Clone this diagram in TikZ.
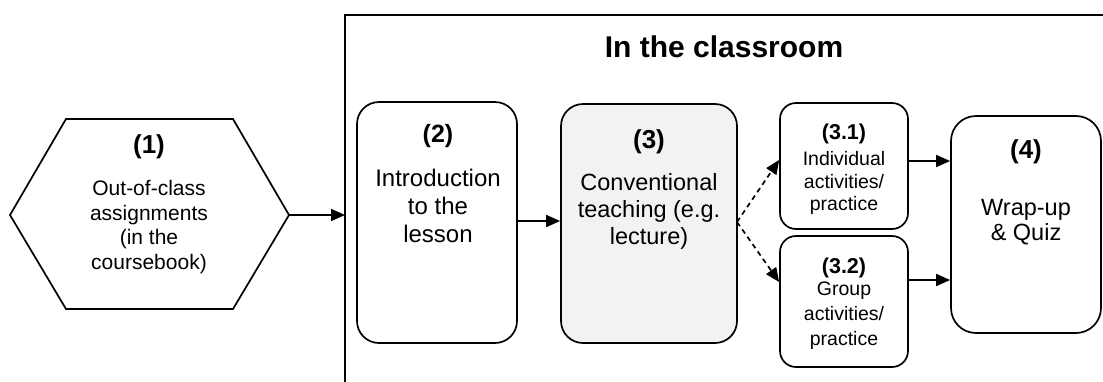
\documentclass[tikz,border=0pt]{standalone}
\usepackage{fontspec}
\setmainfont{Liberation Sans}
\usetikzlibrary{arrows.meta}
\tikzset{
  box/.style={draw, line width=1.7pt, rounded corners=#1, inner sep=0pt},
  box/.default=22pt,
  hdr/.style={font=\bfseries\fontsize{#1}{#1}\selectfont, inner sep=0pt},
  body/.style={align=center, inner sep=0pt},
  arr/.style={line width=1.7pt, -{Triangle[length=14pt,width=12pt]}},
  darr/.style={arr, dash pattern=on 5pt off 4pt},
}
\begin{document}
\begin{tikzpicture}[x=1pt,y=-1pt]
\useasboundingbox (0,0) rectangle (1103,381);
% frame
\draw[line width=1.7pt] (345,383) coordinate (fb) -- (345,15) coordinate (fl) -- (1105,15);
\coordinate (fin) at (345,215);
\node[font=\bfseries\fontsize{30}{30}\selectfont, inner sep=0pt] (title) at (724,47) {In the classroom};
% hexagon (1)
\draw[line width=1.7pt] (10,215) -- (66,119) -- (233,119) -- (289,215) coordinate (h1r) -- (233,309) -- (66,309) -- cycle;
\node[hdr=26] (t1h) at (149,147) {(1)};
\node[body, font=\fontsize{21}{24.7}\selectfont] (t1b) at (149,227) {Out-of-class\\assignments\\(in the\\coursebook)};
% box 2
\node[box, minimum width=160pt, minimum height=241pt] (b2) at (437,222.5) {};
\node[hdr=25] (t2h) at (438,136) {(2)};
\node[body, font=\fontsize{24}{27.7}\selectfont] (t2b) at (438,206) {Introduction\\to the\\lesson};
% box 3
\node[box, fill={rgb,255:red,242;green,242;blue,242}, minimum width=176pt, minimum height=239pt] (b3) at (649,223.5) {};
\node[hdr=26] (t3h) at (649,142) {(3)};
\node[body, font=\fontsize{23.5}{27}\selectfont] (t3b) at (649,211) {Conventional\\teaching (e.g.\\lecture)};
% box 3.1
\node[box=16pt, minimum width=128pt, minimum height=126pt] (b31) at (844,166) {};
\node[hdr=21.5] (t31h) at (844,134) {(3.1)};
\node[body, font=\fontsize{19.5}{22.5}\selectfont] (t31b) at (844,183) {Individual\\activities/\\practice};
% box 3.2
\node[box=16pt, minimum width=128pt, minimum height=131pt] (b32) at (844,301.5) {};
\node[hdr=21.5] (t32h) at (844,268) {(3.2)};
\node[body, font=\fontsize{19.5}{25}\selectfont] (t32b) at (844,316) {Group\\activities/\\practice};
% box 4
\node[box=25pt, minimum width=150pt, minimum height=217pt] (b4) at (1026,224.5) {};
\node[hdr=26] (t4h) at (1026,152) {(4)};
\node[body, font=\fontsize{23.5}{25}\selectfont] (t4b) at (1026,222) {Wrap-up\\\& Quiz};
% connectors
\draw[arr] (h1r) -- (fin);
\draw[arr] (b2.east |- 0,221) -- (b3.west |- 0,221);
\coordinate (b3r) at (737,222);
\draw[darr] (b3r) -- (b31.west |- 0,160);
\draw[darr] (b3r) -- (b32.west |- 0,282);
\draw[arr] (b31.east |- 0,161) -- (b4.west |- 0,161);
\draw[arr] (b32.east |- 0,280) -- (b4.west |- 0,280);
\end{tikzpicture}
\end{document}
